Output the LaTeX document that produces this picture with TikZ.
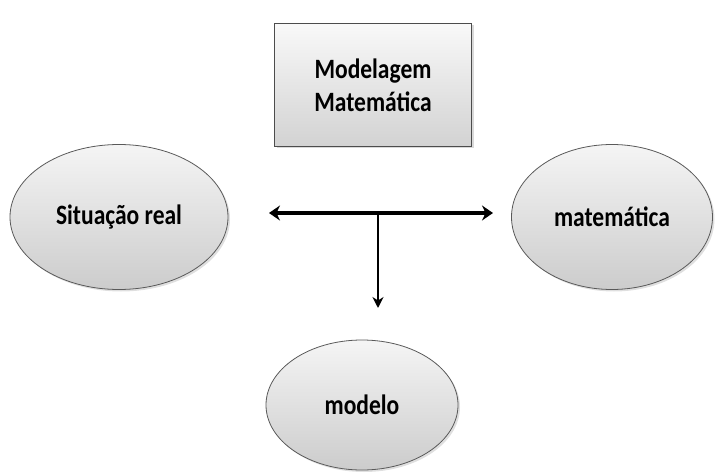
\documentclass[tikz,border=0pt]{standalone}
\usepackage{fontspec}
\setmainfont{Carlito}[FakeStretch=0.84]
\usetikzlibrary{shapes.geometric,arrows.meta,shadows}
\begin{document}
\begin{tikzpicture}[x=1pt,y=-1pt,
  oval/.style={ellipse,draw=gray!70!black,line width=0.8pt,top color=white!92!gray,bottom color=gray!40,
    drop shadow={opacity=0.25,shadow xshift=2pt,shadow yshift=-2pt},inner sep=0pt,font=\fontsize{28}{32}\selectfont\bfseries},
  titlebox/.style={rectangle,draw=gray!60!black,line width=0.8pt,top color=white!95!gray,bottom color=gray!35,
    drop shadow={opacity=0.3,shadow xshift=2pt,shadow yshift=-2pt},inner sep=0pt,align=center,font=\fontsize{28}{33}\selectfont\bfseries},
  conn/.style={line width=3.6pt,{Stealth[length=11pt,width=15pt]}-{Stealth[length=11pt,width=15pt]}},
  down/.style={line width=2pt,-{Stealth[length=11pt,width=11pt]}}]
\useasboundingbox (0,0) rectangle (721,476);
\node[titlebox,minimum width=197pt,minimum height=123pt] (mm) at (373,85) {Modelagem\\Matemática};
\node[oval,minimum width=218pt,minimum height=145pt] (sr) at (119,217) {Situação real};
\node[oval,minimum width=201pt,minimum height=145pt] (mt) at (612,217) {matemática};
\node[oval,minimum width=192pt,minimum height=130pt] (md) at (362,405) {modelo};
\coordinate (hl) at (269,213);
\coordinate (hr) at (493,213);
\coordinate (j) at (378,213);
\coordinate (v) at (378,308);
\draw[conn] (hl) -- (hr);
\draw[down] (j) -- (v);
\end{tikzpicture}
\end{document}
